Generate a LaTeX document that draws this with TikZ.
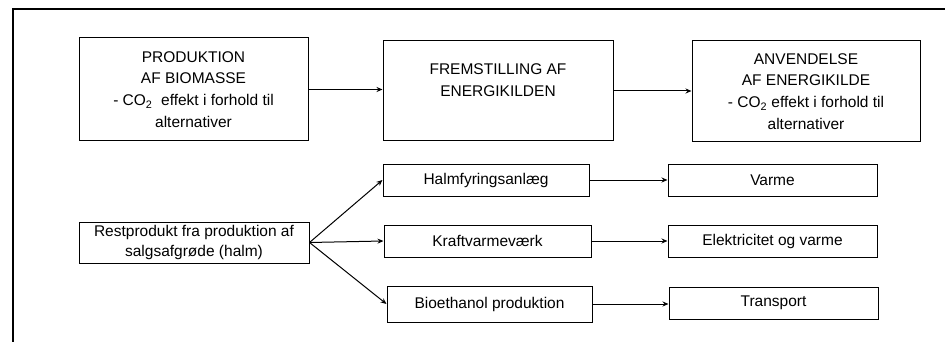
\documentclass[tikz,border=0pt]{standalone}
\usepackage{fontspec}
\setmainfont{Liberation Sans}
\usetikzlibrary{arrows.meta}
\begin{document}
\begin{tikzpicture}[x=1pt,y=-1pt,
  box/.style={draw,line width=1pt,align=center,inner sep=0pt,
    font=\fontsize{15.5}{21.7}\selectfont},
  conn/.style={line width=1pt,-{Stealth[length=6pt,width=5pt]}}]
\useasboundingbox (0,0) rectangle (945,342);
\draw[line width=1.8pt] (13,342) -- (13,9) -- (945,9);
\node[box,minimum width=229pt,minimum height=103pt] (b1) at (193.5,89.5)
  {PRODUKTION\\AF BIOMASSE\\- CO\textsubscript{2}\ \ effekt i forhold til\\alternativer};
\node[box,minimum width=230pt,minimum height=100pt] (b2) at (498,91)
  {FREMSTILLING AF\\ENERGIKILDEN\\\mbox{}};
\node[box,minimum width=228pt,minimum height=101pt] (b3) at (806,91.5)
  {ANVENDELSE\\AF ENERGIKILDE\\- CO\textsubscript{2} effekt i forhold til\\alternativer};
\node[box,minimum width=230pt,minimum height=41pt,font=\fontsize{15.5}{20}\selectfont] (r) at (194,242.5)
  {Restprodukt fra produktion af\\salgsafgrøde (halm)};
\node[box,minimum width=206pt,minimum height=32pt] (h) at (486,180) {Halmfyringsanlæg};
\node[box,minimum width=207pt,minimum height=32pt] (k) at (487.5,241) {Kraftvarmeværk};
\node[box,minimum width=205pt,minimum height=36pt] (bi) at (489.5,304) {Bioethanol produktion};
\node[box,minimum width=209pt,minimum height=32pt] (v) at (772.5,180) {Varme};
\node[box,minimum width=209pt,minimum height=32pt] (e) at (772.5,241) {Elektricitet og varme};
\node[box,minimum width=209pt,minimum height=32pt] (t) at (773.5,303) {Transport};
\draw[conn] (b1.east) -- (b1.east -| b2.west);
\draw[conn] (b2.east) -- (b2.east -| b3.west);
\draw[conn] (r.east) -- (h.west);
\draw[conn] (r.east) -- (k.west);
\draw[conn] (r.east) -- (bi.west);
\draw[conn] (h.east) -- (h.east -| v.west);
\draw[conn] (k.east) -- (k.east -| e.west);
\draw[conn] (bi.east) -- (bi.east -| t.west);
\end{tikzpicture}
\end{document}
